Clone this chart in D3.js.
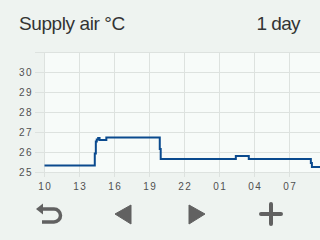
<!DOCTYPE html>
<html>
<head>
<meta charset="utf-8">
<script src="https://cdn.jsdelivr.net/npm/d3@7"></script>
<style>
  html, body { margin: 0; padding: 0; background: #eef3f0; }
  svg { display: block; }
  text { font-family: "Liberation Sans", Arial, sans-serif; }
</style>
</head>
<body>
<svg id="chart" width="320" height="240"></svg>
<script>
// hours after 10:00, supply air temperature
var hours = [0, 4.31, 4.40, 4.48, 4.60, 4.72, 5.30, 9.88, 9.96, 16.40, 17.51, 22.83, 22.92, 24];
var supplyAir = [25.35, 25.95, 26.55, 26.65, 26.72, 26.62, 26.75, 26.18, 25.67, 25.82, 25.67, 25.48, 25.28, 25.28];
var xTickHours = [0, 3, 6, 9, 12, 15, 18, 21];
var xTickLabels = ["10", "13", "16", "19", "22", "01", "04", "07"];
var yTicks = [25, 26, 27, 28, 29, 30];

var svg = d3.select("#chart");

var x = d3.scaleLinear().domain([0, 24]).range([44.5, 324.5]);
var y = d3.scaleLinear().domain([25, 31]).range([172.5, 52.5]);

// title row
svg.append("text").attr("x", 19).attr("y", 30)
  .attr("font-size", 19).attr("letter-spacing", -0.4).attr("fill", "#333")
  .text("Supply air °C");
svg.append("text").attr("x", 300).attr("y", 30).attr("text-anchor", "end")
  .attr("font-size", 19).attr("letter-spacing", -0.6).attr("fill", "#333")
  .text("1 day");

// plot background
svg.append("rect").attr("x", 45).attr("y", 52).attr("width", 280).attr("height", 121)
  .attr("fill", "#f7fbf9");

// grid
var grid = svg.append("g").attr("stroke", "#dde2df").attr("stroke-width", 1);
grid.selectAll("line.h").data(yTicks.concat([31])).enter().append("line")
  .attr("x1", 35).attr("x2", 320)
  .attr("y1", function(d){ return y(d); }).attr("y2", function(d){ return y(d); });
grid.selectAll("line.v").data(xTickHours).enter().append("line")
  .attr("x1", function(d){ return x(d); }).attr("x2", function(d){ return x(d); })
  .attr("y1", 52).attr("y2", 177);

// axis labels
svg.append("g").selectAll("text").data(yTicks).enter().append("text")
  .attr("x", 33).attr("y", function(d){ return y(d); }).attr("dy", "0.36em")
  .attr("text-anchor", "end").attr("font-size", 10).attr("letter-spacing", 1.5)
  .attr("fill", "#505050").text(function(d){ return d; });
svg.append("g").selectAll("text").data(xTickHours).enter().append("text")
  .attr("x", function(d){ return x(d) + 0.8; }).attr("y", 189.8)
  .attr("text-anchor", "middle").attr("font-size", 10).attr("letter-spacing", 1.5)
  .attr("fill", "#505050").text(function(d, i){ return xTickLabels[i]; });

// line
var pts = hours.map(function(h, i){ return [h, supplyAir[i]]; });
var line = d3.line().curve(d3.curveStepAfter)
  .x(function(d){ return x(d[0]); }).y(function(d){ return y(d[1]); });
svg.append("path").datum(pts).attr("d", line)
  .attr("fill", "none").attr("stroke", "#0a4a8e").attr("stroke-width", 2);

// bottom buttons
var ic = svg.append("g").attr("fill", "#616161").attr("stroke", "#616161");
ic.append("path").attr("d", "M36,209 L43,203.5 L43,214.5 Z").attr("stroke", "none");
ic.append("path").attr("d", "M42,209 H54 A6.5,6.5 0 0 1 54,222 H42")
  .attr("fill", "none").attr("stroke-width", 3.5);
ic.append("path").attr("d", "M115,214 L131,205 L131,224 Z").attr("stroke-linejoin", "round").attr("stroke-width", 1);
ic.append("path").attr("d", "M205,214 L189,205 L189,224 Z").attr("stroke-linejoin", "round").attr("stroke-width", 1);
ic.append("path").attr("d", "M261,214 H281 M271,204 V224").attr("fill", "none")
  .attr("stroke-width", 4).attr("stroke-linecap", "round");
</script>
</body>
</html>
